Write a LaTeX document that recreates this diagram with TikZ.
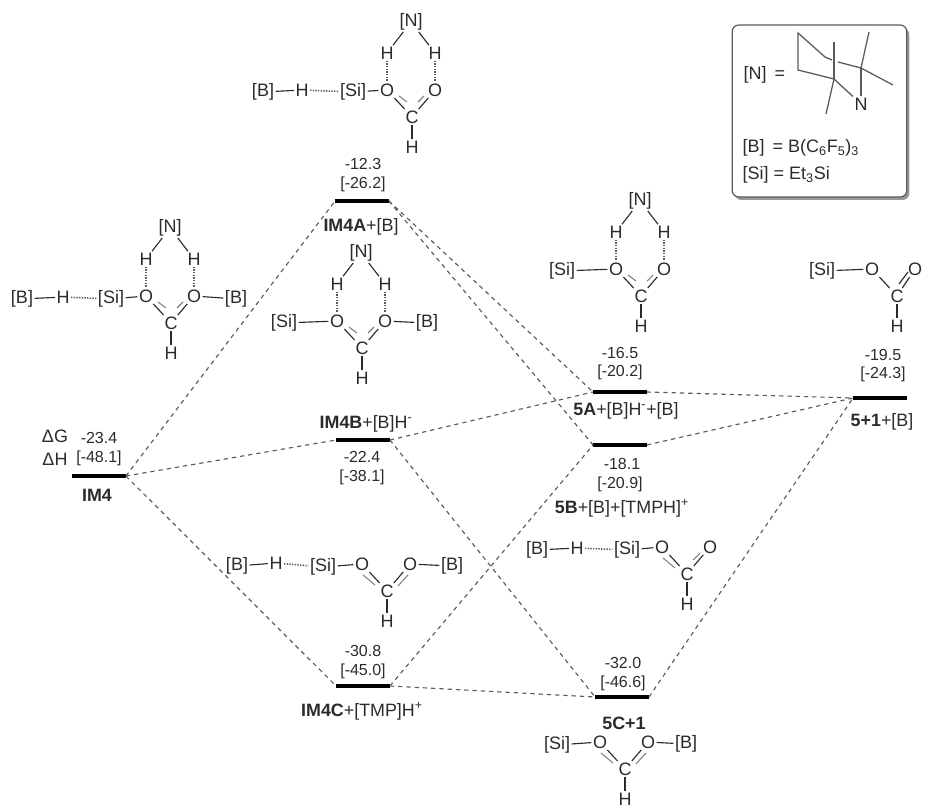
\documentclass[tikz,border=0pt]{standalone}
\usepackage{fontspec}
\setmainfont{Liberation Sans}
\usepackage{tikz}
\definecolor{inkgray}{HTML}{2B2B2B}
\definecolor{linkgray}{HTML}{5A5A5A}
\tikzset{
  atom/.style={font=\fontsize{13.5}{15}\selectfont, text=inkgray, inner sep=1pt},
  val/.style={font=\fontsize{12}{14}\selectfont, text=inkgray, inner sep=0pt},
  lab/.style={font=\fontsize{13.4}{15}\selectfont, text=inkgray, inner sep=0pt},
  level/.style={fill=black, minimum width=40pt, minimum height=2.6pt, inner sep=0pt},
  link/.style={linkgray, line width=0.85pt, dash pattern=on 3.2pt off 3pt},
  bond/.style={inkgray, line width=0.85pt},
  hbond/.style={linkgray, line width=1.2pt, dash pattern=on 1pt off 1pt},
  partbond/.style={gray, line width=0.8pt},
  ring/.style={linkgray, line width=0.95pt},
}
\newcommand{\formatecore}[1][23]{%
  \node[atom] (C) at (0,0) {C};
  \node[atom] (O1) at (-25,-27) {O};
  \node[atom] (O2) at (#1,-27) {O};
  \node[atom] (Hc) at (0,30) {H};
  \draw[bond] (O1) -- (C);
  \draw[bond] (O2) -- (C);
  \draw[bond] (C) -- (Hc);
}
\newcommand{\nbridge}{%
  \node[atom] (N) at (-1,-95) {[N]};
  \node[atom] (H1) at (-25,-64) {H};
  \node[atom] (H2) at (23,-64) {H};
  \draw[bond] (N) -- (H1);
  \draw[bond] (N) -- (H2);
  \draw[hbond] (H1) -- (O1);
  \draw[hbond] (H2) -- (O2);
}
\begin{document}
\begin{tikzpicture}[x=0.75pt, y=-0.75pt]
  \useasboundingbox (0,0) rectangle (925,809);
  % ---- energy levels ----
  \node[level] (imfour) at (99,476) {};
  \node[level] (imfoura) at (362,201) {};
  \node[level] (imfourb) at (363,440) {};
  \node[level] (imfourc) at (363,686) {};
  \node[level] (fivea) at (620,392) {};
  \node[level] (fiveb) at (620,445) {};
  \node[level] (fivec) at (622,697) {};
  \node[level] (fiveone) at (880,398) {};
  % ---- connectors ----
  \foreach \a/\b in {imfour/imfoura, imfour/imfourb, imfour/imfourc,
    imfoura/fivea, imfoura/fiveb, imfourb/fivea, imfourb/fivec,
    imfourc/fiveb, imfourc/fivec, fivea/fiveone, fiveb/fiveone, fivec/fiveone}
    \draw[link] (\a.east) -- (\b.west);
  % ---- values and labels ----
  \node[atom] (dg) at (55,436) {ΔG};
  \node[atom] (dh) at (55,459) {ΔH};
  \node[val] (imfour-g) at (99,438) {-23.4};
  \node[val] (imfour-h) at (99,458) {[-48.1]};
  \node[lab] (imfour-l) at (97,495) {\textbf{IM4}};
  \node[val] (imfoura-g) at (363,164) {-12.3};
  \node[val] (imfoura-h) at (363,184) {[-26.2]};
  \node[lab] (imfoura-l) at (361,227) {\textbf{IM4A}+[B]};
  \node[lab] (imfourb-l) at (366,424) {\textbf{IM4B}+[B]H\textsuperscript{-}};
  \node[val] (imfourb-g) at (362,457) {-22.4};
  \node[val] (imfourb-h) at (362,477) {[-38.1]};
  \node[val] (imfourc-g) at (363,651) {-30.8};
  \node[val] (imfourc-h) at (363,671) {[-45.0]};
  \node[lab] (imfourc-l) at (362,711) {\textbf{IM4C}+[TMP]H\textsuperscript{+}};
  \node[val] (fivea-g) at (620,353) {-16.5};
  \node[val] (fivea-h) at (620,372) {[-20.2]};
  \node[lab] (fivea-l) at (626,411) {\textbf{5A}+[B]H\textsuperscript{-}+[B]};
  \node[val] (fiveb-g) at (622,464) {-18.1};
  \node[val] (fiveb-h) at (620,484) {[-20.9]};
  \node[lab] (fiveb-l) at (622,508) {\textbf{5B}+[B]+[TMPH]\textsuperscript{+}};
  \node[val] (fivec-g) at (623,663) {-32.0};
  \node[val] (fivec-h) at (623,683) {[-46.6]};
  \node[lab] (fivec-l) at (624,723) {\textbf{5C+1}};
  \node[val] (fiveone-g) at (883,355) {-19.5};
  \node[val] (fiveone-h) at (883,374) {[-24.3]};
  \node[lab] (fiveone-l) at (882,422) {\textbf{5+1}+[B]};
  % ---- top: IM4A with the borane ----
  \begin{scope}[shift={(412,117)}, name prefix=ma-]
    \formatecore
    \nbridge
    \node[atom] (Si) at (-59,-25) {[Si]};
    \node[atom] (H) at (-110,-27) {H};
    \node[atom] (B) at (-149,-25) {[B]};
    \draw[bond] (B) -- (H);
    \draw[hbond] (H) -- (Si);
    \draw[bond] (Si) -- (O1);
    \draw[partbond] (-13,-21) -- (-5,-15);
    \draw[partbond] (12,-21) -- (6,-15);
  \end{scope}
  % ---- left: IM4 ----
  \begin{scope}[shift={(171,323)}, name prefix=mb-]
    \formatecore
    \nbridge
    \node[atom] (Si) at (-60,-24) {[Si]};
    \node[atom] (H) at (-108,-26) {H};
    \node[atom] (B) at (-149,-24) {[B]};
    \node[atom] (Br) at (65,-24) {[B]};
    \draw[bond] (B) -- (H);
    \draw[hbond] (H) -- (Si);
    \draw[bond] (Si) -- (O1);
    \draw[bond] (O2) -- (Br);
    \draw[partbond] (-13,-21) -- (-5,-15);
    \draw[partbond] (12,-21) -- (6,-15);
  \end{scope}
  % ---- middle: IM4A ----
  \begin{scope}[shift={(362,348)}, name prefix=mc-]
    \formatecore
    \nbridge
    \node[atom] (Si) at (-78,-25) {[Si]};
    \node[atom] (Br) at (65,-25) {[B]};
    \draw[bond] (Si) -- (O1);
    \draw[bond] (O2) -- (Br);
    \draw[partbond] (-13,-21) -- (-5,-15);
    \draw[partbond] (12,-21) -- (6,-15);
  \end{scope}
  % ---- right: 5A ----
  \begin{scope}[shift={(641,296)}, name prefix=md-]
    \formatecore
    \nbridge
    \node[atom] (Si) at (-79,-25) {[Si]};
    \draw[bond] (Si) -- (O1);
    \draw[partbond] (-13,-21) -- (-5,-15);
    \draw[partbond] (12,-21) -- (6,-15);
  \end{scope}
  % ---- far right: 5 ----
  \begin{scope}[shift={(897,296)}, name prefix=me-]
    \formatecore[18]
    \node[atom] (Si) at (-75,-25) {[Si]};
    \draw[bond] (Si) -- (O1);
    \draw[bond] (11,-24) -- (2,-12);
  \end{scope}
  % ---- lower: IM4C ----
  \begin{scope}[shift={(387,591)}, name prefix=mf-]
    \formatecore
    \node[atom] (Si) at (-64,-24) {[Si]};
    \node[atom] (H) at (-111,-28) {H};
    \node[atom] (B) at (-150,-25) {[B]};
    \node[atom] (Br) at (65,-25) {[B]};
    \draw[bond] (B) -- (H);
    \draw[hbond] (H) -- (Si);
    \draw[bond] (Si) -- (O1);
    \draw[bond] (O2) -- (Br);
    \draw[partbond] (-24,-16) -- (-12,-6);
    \draw[partbond] (21,-16) -- (11,-5);
  \end{scope}
  % ---- lower right: 5B ----
  \begin{scope}[shift={(687,574)}, name prefix=mg-]
    \formatecore
    \node[atom] (Si) at (-60,-24) {[Si]};
    \node[atom] (H) at (-110,-26) {H};
    \node[atom] (B) at (-150,-24) {[B]};
    \draw[bond] (B) -- (H);
    \draw[hbond] (H) -- (Si);
    \draw[bond] (Si) -- (O1);
    \draw[partbond] (-24,-16) -- (-12,-6);
    \draw[partbond] (13,-21) -- (6,-14);
  \end{scope}
  % ---- bottom: 5C ----
  \begin{scope}[shift={(625,769)}, name prefix=mh-]
    \formatecore
    \node[atom] (Si) at (-68,-24) {[Si]};
    \node[atom] (Br) at (61,-25) {[B]};
    \draw[bond] (Si) -- (O1);
    \draw[bond] (O2) -- (Br);
    \draw[partbond] (-24,-16) -- (-12,-6);
    \draw[partbond] (21,-16) -- (11,-5);
  \end{scope}
  % ---- legend box ----
  \node[fill=gray!80, rounded corners=5pt, minimum width=131pt, minimum height=129pt, inner sep=0pt] (boxshadow) at (822,114) {};
  \node[draw=linkgray, fill=white, line width=0.9pt, rounded corners=5pt, minimum width=131pt, minimum height=129pt, inner sep=0pt] (box) at (819.5,111) {};
  \node[atom, anchor=west] (legn) at (742,75) {[N] \,=};
  \node[atom] (legnitro) at (861,104) {N};
  \node[atom, anchor=west] (legb) at (741,148) {[B] \,= B(C\textsubscript{6}F\textsubscript{5})\textsubscript{3}};
  \node[atom, anchor=west] (legsi) at (741,175) {[Si] = Et\textsubscript{3}Si};
  \draw[ring] (834,42) -- (834,79);
  \draw[ring] (869,32) -- (861,68) -- (893,85);
  \draw[ring] (838,62) -- (861,68);
  \draw[ring] (832,60) -- (825,57) -- (798,33) -- (798,70) -- (834,79) -- (826,114);
  \draw[ring] (834,79) -- (legnitro);
  \draw[ring] (861,68) -- (legnitro);
\end{tikzpicture}
\end{document}
